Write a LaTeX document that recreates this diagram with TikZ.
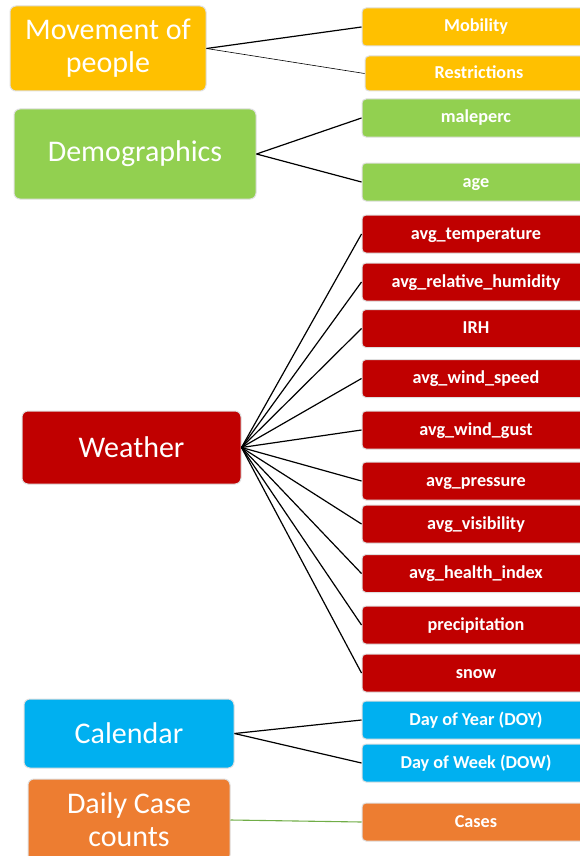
\documentclass[tikz,border=0pt]{standalone}
\usepackage{fontspec}
\setmainfont{Carlito}
\definecolor{cYel}{HTML}{FFC000}
\definecolor{cGrn}{HTML}{92D050}
\definecolor{cRed}{HTML}{C00000}
\definecolor{cBlu}{HTML}{00B0F0}
\definecolor{cOra}{HTML}{ED7D31}
\definecolor{cLine}{HTML}{70AD47}
\tikzset{
  catbox/.style={rectangle, rounded corners=6pt, draw=gray!25, line width=1pt, text=white, align=center, inner sep=0pt, font=\fontsize{30}{33}\selectfont},
  featbox/.style={rectangle, rounded corners=4pt, draw=gray!25, line width=1pt, text=white, inner sep=0pt, minimum width=228pt, minimum height=38pt, text height=11pt, text depth=1pt, font=\fontsize{18.2}{21}\selectfont\bfseries},
  link/.style={black, line width=1.2pt},
}
\begin{document}
\begin{tikzpicture}[x=1pt,y=-1pt]
\useasboundingbox (0,0) rectangle (580,856);
% category boxes
\node[catbox, fill=cYel, minimum width=196pt, minimum height=85pt] (mov) at (108,48.5) {Movement of\\people};
\node[catbox, fill=cGrn, minimum width=242pt, minimum height=90pt] (dem) at (135,154) {Demographics};
\node[catbox, fill=cRed, minimum width=219pt, minimum height=73pt] (wea) at (131.5,447.5) {Weather};
\node[catbox, fill=cBlu, minimum width=210pt, minimum height=69pt] (cal) at (129,733.5) {Calendar};
\node[catbox, fill=cOra, minimum width=202pt, minimum height=82pt] (dcc) at (129,820) {Daily Case\\counts};
% feature boxes
\node[featbox, fill=cYel] (mob) at (476,27) {Mobility};
\node[featbox, fill=cYel, minimum height=35pt] (res) at (479,73.5) {Restrictions};
\node[featbox, fill=cGrn] (male) at (476,118) {maleperc};
\node[featbox, fill=cGrn] (age) at (476,182) {age};
\node[featbox, fill=cRed] (w1) at (476,234) {avg\_temperature};
\node[featbox, fill=cRed] (w2) at (476,282) {avg\_relative\_humidity};
\node[featbox, fill=cRed] (w3) at (476,328.5) {IRH};
\node[featbox, fill=cRed] (w4) at (476,378.5) {avg\_wind\_speed};
\node[featbox, fill=cRed] (w5) at (476,430) {avg\_wind\_gust};
\node[featbox, fill=cRed] (w6) at (476,481) {avg\_pressure};
\node[featbox, fill=cRed] (w7) at (476,524) {avg\_visibility};
\node[featbox, fill=cRed] (w8) at (476,573.5) {avg\_health\_index};
\node[featbox, fill=cRed] (w9) at (476,625) {precipitation};
\node[featbox, fill=cRed] (w10) at (476,673) {snow};
\node[featbox, fill=cBlu] (doy) at (476,720) {Day of Year (DOY)};
\node[featbox, fill=cBlu] (dow) at (476,763) {Day of Week (DOW)};
\node[featbox, fill=cOra] (cas) at (476,822) {Cases};
% connectors
\draw[link] (mov.east) -- (mob.west);
\draw[black, line width=0.6pt] (mov.east) -- (res.west);
\draw[link] (dem.east) -- (male.west);
\draw[link] (dem.east) -- (age.west);
\foreach \n in {w1,w2,w3,w4,w5,w6,w7,w8,w9,w10}
  \draw[link] (wea.east) -- (\n.west);
\draw[link] (cal.east) -- (doy.west);
\draw[link] (cal.east) -- (dow.west);
\draw[cLine, line width=1.1pt] (dcc.east) -- (cas.west);
\end{tikzpicture}
\end{document}
